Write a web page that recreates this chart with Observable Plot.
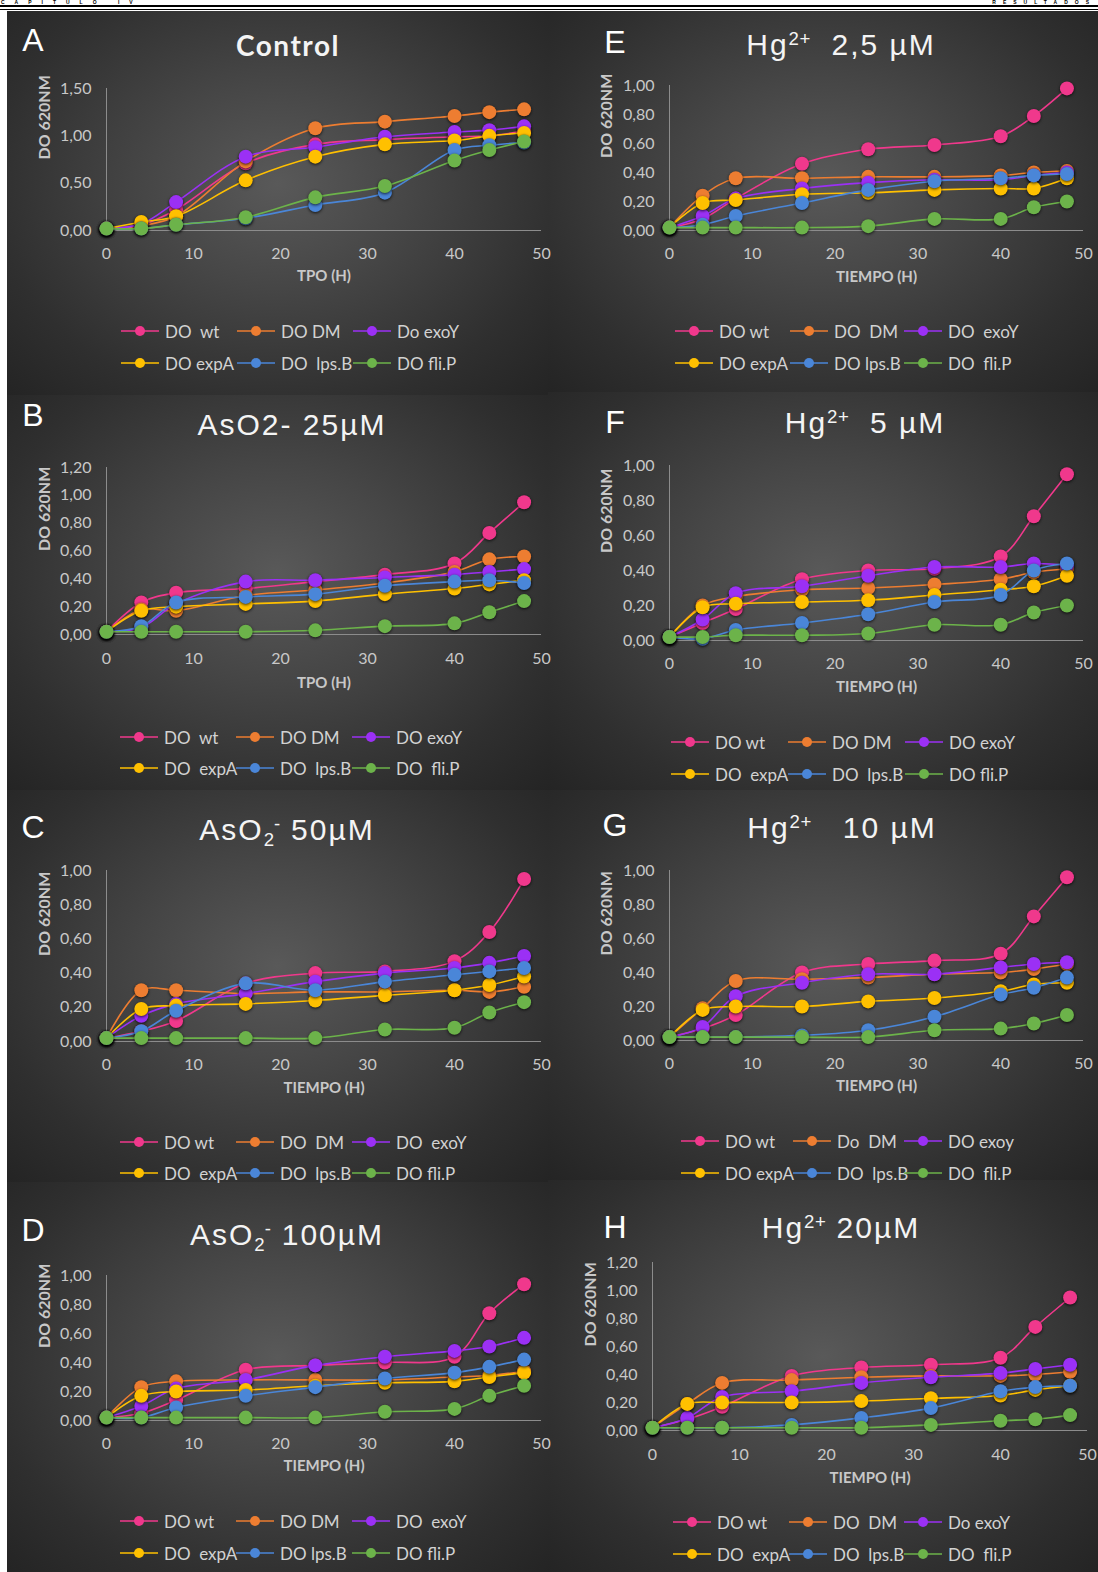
<!DOCTYPE html>
<html>
<head>
<meta charset="utf-8">
<script src="https://cdn.jsdelivr.net/npm/d3@7"></script>
<script src="https://cdn.jsdelivr.net/npm/@observablehq/plot@0.6"></script>
<style>
html, body { margin: 0; padding: 0; background: #fff; }
body { width: 1098px; height: 1572px; position: relative; overflow: hidden; font-family: Lato, sans-serif; }
.hdr { position: absolute; color: #000; font: bold 5px "Liberation Sans", Arial, sans-serif; letter-spacing: 10px; white-space: nowrap; line-height: 5px; }
.rule { position: absolute; left: 0; width: 1098px; background: #000; }
.panel { position: absolute; background: radial-gradient(ellipse farthest-corner at 50% 45%, #595959 0%, #464646 35%, #2f2f2f 75%, #242424 100%); }
.letter { position: absolute; color: #fff; font: 32px "Liberation Sans", Arial, sans-serif; line-height: 1; transform: translate(-50%, -50%); }
.title { position: absolute; color: #f4f4f4; font: 30px "Liberation Sans", Arial, sans-serif; letter-spacing: 2px; white-space: pre; line-height: 1; transform: translate(-50%, -50%); }
.title.bold { font: bold 28px Lato, sans-serif; letter-spacing: 1.5px; }
.title sup { font-size: 0.62em; vertical-align: 0.55em; line-height: 0; letter-spacing: 0.5px; }
.title sub { font-size: 0.62em; vertical-align: -0.3em; line-height: 0; letter-spacing: 0; }
.leg { position: absolute; height: 22px; transform: translateY(-50%); display: flex; align-items: center; white-space: pre; color: #d2d2d2; font: 17px Lato, sans-serif; }
.leg span { margin-left: 6px; }
svg.chart { position: absolute; overflow: visible; }
svg.chart g[aria-label="dot"] { filter: drop-shadow(0px 1.5px 1.5px rgba(0,0,0,0.75)); }
</style>
</head>
<body>
<script>
// ---------- data ----------
const hours = [0, 4, 8, 16, 24, 32, 40, 44, 48];
const strains = ["wt", "DM", "exoY", "expA", "lps.B", "fli.P"];

// rows follow the strain order: wt, DM, exoY, expA, lps.B, fli.P
const odControl = [
  [0.02, 0.06, 0.22, 0.71, 0.91, 0.96, 0.99, 1.00, 1.05],
  [0.02, 0.05, 0.15, 0.73, 1.08, 1.15, 1.21, 1.25, 1.28],
  [0.02, 0.07, 0.30, 0.78, 0.88, 0.99, 1.04, 1.06, 1.10],
  [0.02, 0.09, 0.15, 0.53, 0.78, 0.91, 0.95, 1.00, 1.03],
  [0.02, 0.02, 0.06, 0.13, 0.27, 0.40, 0.85, 0.90, 0.93],
  [0.02, 0.02, 0.06, 0.14, 0.35, 0.47, 0.74, 0.85, 0.94]
];
const odAs25 = [
  [0.02, 0.23, 0.30, 0.33, 0.38, 0.43, 0.51, 0.73, 0.95],
  [0.02, 0.18, 0.17, 0.28, 0.32, 0.37, 0.45, 0.54, 0.56],
  [0.02, 0.05, 0.22, 0.38, 0.39, 0.41, 0.43, 0.45, 0.47],
  [0.02, 0.17, 0.20, 0.22, 0.24, 0.29, 0.33, 0.36, 0.39],
  [0.02, 0.06, 0.23, 0.27, 0.29, 0.35, 0.38, 0.39, 0.37],
  [0.02, 0.02, 0.02, 0.02, 0.03, 0.06, 0.08, 0.16, 0.24]
];
const odAs50 = [
  [0.02, 0.06, 0.12, 0.34, 0.40, 0.41, 0.47, 0.64, 0.95],
  [0.02, 0.30, 0.30, 0.28, 0.29, 0.29, 0.30, 0.29, 0.32],
  [0.02, 0.15, 0.22, 0.28, 0.35, 0.40, 0.43, 0.46, 0.50],
  [0.02, 0.19, 0.21, 0.22, 0.24, 0.27, 0.30, 0.33, 0.38],
  [0.02, 0.06, 0.18, 0.34, 0.30, 0.35, 0.39, 0.41, 0.43],
  [0.02, 0.02, 0.02, 0.02, 0.02, 0.07, 0.08, 0.17, 0.23]
];
const odAs100 = [
  [0.02, 0.05, 0.14, 0.35, 0.38, 0.40, 0.44, 0.74, 0.94],
  [0.02, 0.23, 0.27, 0.28, 0.28, 0.28, 0.30, 0.31, 0.34],
  [0.02, 0.10, 0.22, 0.28, 0.38, 0.44, 0.48, 0.51, 0.57],
  [0.02, 0.17, 0.20, 0.21, 0.24, 0.26, 0.27, 0.30, 0.33],
  [0.02, 0.02, 0.09, 0.17, 0.23, 0.29, 0.33, 0.37, 0.42],
  [0.02, 0.02, 0.02, 0.02, 0.02, 0.06, 0.08, 0.17, 0.24]
];
const odHg2_5 = [
  [0.02, 0.08, 0.22, 0.46, 0.56, 0.59, 0.65, 0.79, 0.98],
  [0.02, 0.24, 0.36, 0.36, 0.37, 0.37, 0.38, 0.40, 0.41],
  [0.02, 0.10, 0.22, 0.29, 0.33, 0.35, 0.35, 0.38, 0.40],
  [0.02, 0.19, 0.21, 0.25, 0.26, 0.28, 0.29, 0.29, 0.36],
  [0.02, 0.04, 0.10, 0.19, 0.28, 0.34, 0.36, 0.38, 0.39],
  [0.02, 0.02, 0.02, 0.02, 0.03, 0.08, 0.08, 0.16, 0.20]
];
const odHg5 = [
  [0.02, 0.10, 0.18, 0.35, 0.40, 0.41, 0.48, 0.71, 0.95],
  [0.02, 0.20, 0.25, 0.29, 0.30, 0.32, 0.35, 0.39, 0.41],
  [0.02, 0.12, 0.27, 0.31, 0.37, 0.42, 0.42, 0.44, 0.43],
  [0.02, 0.19, 0.21, 0.22, 0.23, 0.26, 0.29, 0.31, 0.37],
  [0.02, 0.01, 0.06, 0.10, 0.15, 0.22, 0.26, 0.40, 0.44],
  [0.02, 0.02, 0.03, 0.03, 0.04, 0.09, 0.09, 0.16, 0.20]
];
const odHg10 = [
  [0.02, 0.07, 0.15, 0.40, 0.45, 0.47, 0.51, 0.73, 0.96],
  [0.02, 0.19, 0.35, 0.36, 0.37, 0.39, 0.40, 0.42, 0.45],
  [0.02, 0.08, 0.26, 0.34, 0.39, 0.39, 0.43, 0.45, 0.46],
  [0.02, 0.18, 0.20, 0.20, 0.23, 0.25, 0.29, 0.33, 0.34],
  [0.02, 0.02, 0.02, 0.03, 0.06, 0.14, 0.27, 0.31, 0.37],
  [0.02, 0.02, 0.02, 0.02, 0.02, 0.06, 0.07, 0.10, 0.15]
];
const odHg20 = [
  [0.02, 0.08, 0.17, 0.39, 0.45, 0.47, 0.52, 0.74, 0.95],
  [0.02, 0.19, 0.34, 0.36, 0.38, 0.39, 0.39, 0.40, 0.42],
  [0.02, 0.09, 0.24, 0.28, 0.34, 0.38, 0.41, 0.44, 0.47],
  [0.02, 0.19, 0.20, 0.20, 0.21, 0.23, 0.25, 0.29, 0.32],
  [0.02, 0.02, 0.02, 0.04, 0.09, 0.16, 0.28, 0.31, 0.32],
  [0.02, 0.02, 0.02, 0.02, 0.02, 0.04, 0.07, 0.08, 0.11]
];

const legendA = ["DO  wt", "DO DM", "Do exoY", "DO expA", "DO  lps.B", "DO fli.P"];
const legendB = ["DO  wt", "DO DM", "DO exoY", "DO  expA", "DO  lps.B", "DO  fli.P"];
const legendC = ["DO wt", "DO  DM", "DO  exoY", "DO  expA", "DO  lps.B", "DO fli.P"];
const legendD = ["DO wt", "DO DM", "DO  exoY", "DO  expA", "DO lps.B", "DO fli.P"];
const legendE = ["DO wt", "DO  DM", "DO  exoY", "DO expA", "DO lps.B", "DO  fli.P"];
const legendF = ["DO wt", "DO DM", "DO exoY", "DO  expA", "DO  lps.B", "DO fli.P"];
const legendG = ["DO wt", "Do  DM", "DO exoy", "DO expA", "DO  lps.B", "DO  fli.P"];
const legendH = ["DO wt", "DO  DM", "Do exoY", "DO  expA", "DO  lps.B", "DO  fli.P"];

const xTicks = [0, 10, 20, 30, 40, 50];
const yTicks15 = [0, 0.5, 1.0, 1.5];
const yTicks10 = [0, 0.2, 0.4, 0.6, 0.8, 1.0];
const yTicks12 = [0, 0.2, 0.4, 0.6, 0.8, 1.0, 1.2];
const yAxisTitle = "DO 620NM";

// ---------- styles / layout ----------
const palette = ["#f0388c", "#ed7d31", "#9b30f5", "#ffc000", "#4a86d8", "#6cb34a"];

const L = {colX: 7, colW: 541, x0: 106, x50: 541, yLabelX: 44, letterX: 33, legX: [139, 255, 371]};
const R = {colX: 548, colW: 550, x0: 669, x50: 1083, yLabelX: 606, letterX: 615};

const panels = [
  {...L, letter: "A", title: "Control", bold: true, od: odControl, legend: legendA, yTicks: yTicks15, xTitle: "TPO (H)",
   top: 11, bottom: 395, yTop: 88, y0: 230, xTickY: 253, xLabelY: 280, letterY: 40, titleX: 288, titleY: 45, legY: [331, 363], legX: [140, 256, 372]},
  {...L, letter: "B", title: "AsO2- 25µM", od: odAs25, legend: legendB, yTicks: yTicks12, xTitle: "TPO (H)",
   top: 395, bottom: 790, yTop: 467, y0: 634, xTickY: 658, xLabelY: 687, letterY: 415, titleX: 292, titleY: 425, legY: [737, 768]},
  {...L, letter: "C", title: "AsO<sub>2</sub><sup>-</sup> 50µM", od: odAs50, legend: legendC, yTicks: yTicks10, xTitle: "TIEMPO (H)",
   top: 790, bottom: 1182, yTop: 870, y0: 1041, xTickY: 1064, xLabelY: 1092, letterY: 827, titleX: 287, titleY: 830, legY: [1142, 1173]},
  {...L, letter: "D", title: "AsO<sub>2</sub><sup>-</sup> 100µM", od: odAs100, legend: legendD, yTicks: yTicks10, xTitle: "TIEMPO (H)",
   top: 1182, bottom: 1572, yTop: 1275, y0: 1420, xTickY: 1443, xLabelY: 1470, letterY: 1230, titleX: 287, titleY: 1235, legY: [1521, 1553]},
  {...R, letter: "E", title: "Hg<sup>2+</sup>  2,5 µM", od: odHg2_5, legend: legendE, yTicks: yTicks10, xTitle: "TIEMPO (H)",
   top: 11, bottom: 392, yTop: 85, y0: 230, xTickY: 253, xLabelY: 281, letterY: 42, titleX: 841, titleY: 45, legY: [331, 363], legX: [694, 809, 923]},
  {...R, letter: "F", title: "Hg<sup>2+</sup>  5 µM", od: odHg5, legend: legendF, yTicks: yTicks10, xTitle: "TIEMPO (H)",
   top: 392, bottom: 790, yTop: 465, y0: 640, xTickY: 663, xLabelY: 691, letterY: 422, titleX: 865, titleY: 423, legY: [742, 774], legX: [690, 807, 924]},
  {...R, letter: "G", title: "Hg<sup>2+</sup>   10 µM", od: odHg10, legend: legendG, yTicks: yTicks10, xTitle: "TIEMPO (H)",
   top: 790, bottom: 1180, yTop: 870, y0: 1040, xTickY: 1063, xLabelY: 1090, letterY: 825, titleX: 842, titleY: 828, legY: [1141, 1173], legX: [700, 812, 923]},
  {...R, letter: "H", title: "Hg<sup>2+</sup> 20µM", od: odHg20, legend: legendH, yTicks: yTicks12, xTitle: "TIEMPO (H)",
   x0: 652, x50: 1087, yLabelX: 590,
   top: 1180, bottom: 1572, yTop: 1262, y0: 1430, xTickY: 1454, xLabelY: 1482, letterY: 1227, titleX: 841, titleY: 1228, legY: [1522, 1554], legX: [692, 808, 923]}
];

const fmt = d => d.toFixed(2).replace(".", ",");
const body = document.body;

function el(tag, cls, styles, html) {
  const e = document.createElement(tag);
  if (cls) e.className = cls;
  Object.assign(e.style, styles || {});
  if (html != null) e.innerHTML = html;
  body.appendChild(e);
  return e;
}

// page running head and double rule
el("div", "hdr", {left: "1px", top: "0px"}, "CAPÍTULO IV");
el("div", "hdr", {right: "2px", top: "0px", letterSpacing: "7px"}, "RESULTADOS");
el("div", "rule", {top: "5px", height: "2px"});
el("div", "rule", {top: "9px", height: "1px"});

// panel backgrounds first
for (const p of panels) {
  el("div", "panel", {left: p.colX + "px", top: p.top + "px", width: p.colW + "px", height: (p.bottom - p.top) + "px"});
}

for (const p of panels) {
  // letter + title
  el("div", "letter", {left: p.letterX + "px", top: p.letterY + "px"}, p.letter);
  el("div", "title" + (p.bold ? " bold" : ""), {left: p.titleX + "px", top: p.titleY + "px"}, p.title);

  // chart
  const svgTop = p.yTop - 22;
  const svgH = (p.xLabelY + 14) - svgTop;
  const yMax = p.yTicks[p.yTicks.length - 1];
  const rows = [];
  strains.forEach((s, i) => hours.forEach((t, j) => rows.push({strain: s, t, od: p.od[i][j]})));

  const marks = [
    Plot.ruleX([0], {stroke: "#8c8c8c", strokeWidth: 1}),
    Plot.ruleY([0], {stroke: "#8c8c8c", strokeWidth: 1}),
    Plot.axisX({ticks: xTicks, tickSize: 0, tickPadding: (p.xTickY - p.y0) - 5.6, label: null, tickFormat: d => String(d)}),
    Plot.axisY({ticks: p.yTicks, tickSize: 0, tickPadding: 15, label: null, tickFormat: fmt}),
    Plot.text([yAxisTitle], {frameAnchor: "left", dx: p.yLabelX - p.x0, rotate: -90, fontWeight: "bold", fontSize: 16, fill: "#c8c8c8"}),
    Plot.text([p.xTitle], {frameAnchor: "bottom", dy: p.xLabelY - p.y0, fontWeight: "bold", fontSize: 15, fill: "#c8c8c8"})
  ];
  strains.forEach((s, i) => {
    const r = rows.filter(d => d.strain === s);
    marks.push(Plot.line(r, {x: "t", y: "od", stroke: palette[i], strokeWidth: 1.6, curve: "catmull-rom"}));
    marks.push(Plot.dot(r, {x: "t", y: "od", r: 7, fill: palette[i]}));
  });

  const chart = Plot.plot({
    width: p.colW,
    height: svgH,
    marginTop: p.yTop - svgTop,
    marginBottom: svgTop + svgH - p.y0,
    marginLeft: p.x0 - p.colX,
    marginRight: p.colX + p.colW - p.x50,
    x: {domain: [0, 50]},
    y: {domain: [0, yMax]},
    style: {background: "transparent", color: "#c8c8c8", fontFamily: "Lato, sans-serif", fontSize: "16px"},
    marks
  });
  chart.classList.add("chart");
  chart.style.left = p.colX + "px";
  chart.style.top = svgTop + "px";
  body.appendChild(chart);

  // legend (two rows of three)
  strains.forEach((s, i) => {
    const row = Math.floor(i / 3), col = i % 3;
    const mx = p.legX[col], my = p.legY[row];
    const c = palette[i];
    el("div", "leg", {left: (mx - 19) + "px", top: my + "px"},
      `<svg width="38" height="12"><line x1="0" x2="38" y1="6" y2="6" stroke="${c}" stroke-width="1.5"/><circle cx="19" cy="6" r="5" fill="${c}"/></svg><span>${p.legend[i]}</span>`);
  });
}
</script>
</body>
</html>
